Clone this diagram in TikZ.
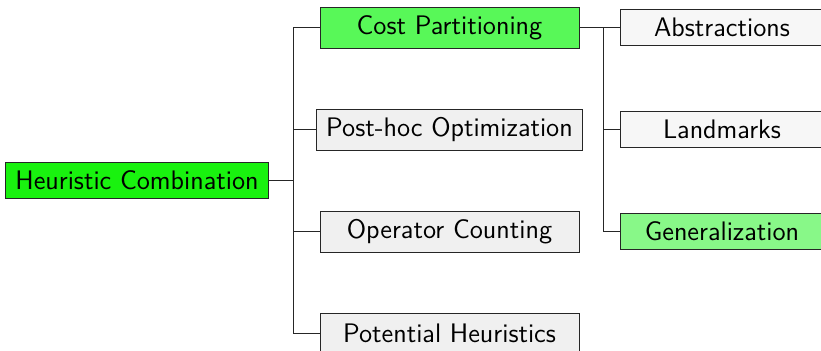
\documentclass[tikz,border=0pt]{standalone}
\begin{document}
\begin{tikzpicture}[x=0.5pt,y=-0.5pt,
  every node/.style={font=\fontsize{13.4}{16}\selectfont\sffamily},
  box/.style={draw=black!85, line width=0.5pt, inner xsep=4.8pt, inner ysep=2pt},
  rootbox/.style={box, minimum height=18pt},
  lvlone/.style={box, fill=black!6, minimum width=129.5pt, minimum height=20.5pt},
  lvltwo/.style={box, fill=black!3, minimum width=102pt, minimum height=18pt},
  conn/.style={draw=black!85, line width=0.5pt}
]
\useasboundingbox (0,0) rectangle (821,350);
\definecolor{rootgreen}{RGB}{25,242,15}
\definecolor{cpgreen}{RGB}{88,248,88}
\definecolor{gengreen}{RGB}{136,248,136}
\node[rootbox, fill=rootgreen] (hc) at (137,180.5) {Heuristic Combination};
\node[lvlone, fill=cpgreen] (cp) at (449.5,27.5) {Cost Partitioning};
\node[lvlone] (ph) at (449.5,129.5) {Post-hoc Optimization};
\node[lvlone] (oc) at (449.5,231.5) {Operator Counting};
\node[lvlone] (pot) at (449.5,333.5) {Potential Heuristics};
\node[lvltwo] (ab) at (722,27.5) {Abstractions};
\node[lvltwo] (lm) at (722,129.5) {Landmarks};
\node[lvltwo, fill=gengreen] (gen) at (722,231.5) {Generalization};
\coordinate (j1) at (293,180.5);
\coordinate (j2) at (603,27.5);
\draw[conn] (hc.east) -- (j1);
\draw[conn] (j1) |- (cp.west);
\draw[conn] (j1) |- (ph.west);
\draw[conn] (j1) |- (oc.west);
\draw[conn] (j1) |- (pot.west);
\draw[conn] (cp.east) -- (j2);
\draw[conn] (j2) |- (ab.west);
\draw[conn] (j2) |- (lm.west);
\draw[conn] (j2) |- (gen.west);
\end{tikzpicture}
\end{document}
